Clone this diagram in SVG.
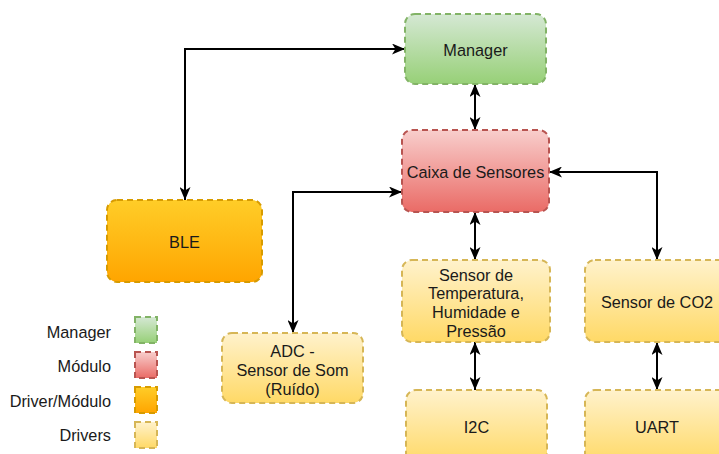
<svg xmlns="http://www.w3.org/2000/svg" width="719" height="454" viewBox="0 0 719 454">
  <style>
    text { font-family: "Liberation Sans", Arial, sans-serif; font-size: 16.3px; fill: #1a1a1a; }
    .c { text-anchor: middle; }
    .r { text-anchor: end; }
    .box { stroke-width: 2; stroke-dasharray: 6 4; }
    .green { fill: url(#gGreen); stroke: #82b366; }
    .red { fill: url(#gRed); stroke: #b85450; }
    .orange { fill: url(#gOrange); stroke: #d79b00; }
    .yellow { fill: url(#gYellow); stroke: #d6b656; }
    .link { fill: none; stroke: #000; stroke-width: 2; marker-start: url(#arrow); marker-end: url(#arrow); }
  </style>
  <defs>
    <linearGradient id="gGreen" x1="0" y1="0" x2="0" y2="1">
      <stop offset="0" stop-color="#d5e8d4"/>
      <stop offset="1" stop-color="#97d077"/>
    </linearGradient>
    <linearGradient id="gRed" x1="0" y1="0" x2="0" y2="1">
      <stop offset="0" stop-color="#f8cecc"/>
      <stop offset="1" stop-color="#ea6b66"/>
    </linearGradient>
    <linearGradient id="gOrange" x1="0" y1="0" x2="0" y2="1">
      <stop offset="0" stop-color="#ffcd28"/>
      <stop offset="1" stop-color="#ffa500"/>
    </linearGradient>
    <linearGradient id="gYellow" x1="0" y1="0" x2="0" y2="1">
      <stop offset="0" stop-color="#fff2cc"/>
      <stop offset="1" stop-color="#ffd966"/>
    </linearGradient>
    <!-- classic double-ended arrowhead -->
    <marker id="arrow" viewBox="0 0 13 11" refX="13" refY="5.5" markerWidth="13" markerHeight="11" markerUnits="userSpaceOnUse" orient="auto-start-reverse">
      <path d="M0,0 L13,5.5 L0,11 L3.5,5.5 Z" fill="#000"/>
    </marker>
  </defs>

  <!-- connectors -->
  <g id="connectors">
    <path class="link" d="M185,200 V49 H405"/>
    <path class="link" d="M475,84 V130"/>
    <path class="link" d="M293,333 V192 H402"/>
    <path class="link" d="M475,212 V260"/>
    <path class="link" d="M549,172 H657 V260"/>
    <path class="link" d="M475,342 V390"/>
    <path class="link" d="M657,342 V390"/>
  </g>

  <!-- nodes -->
  <g id="manager">
    <rect class="box green" x="405" y="14" width="141" height="70" rx="10"/>
    <text class="c" x="475.5" y="55.5">Manager</text>
  </g>
  <g id="caixa-sensores">
    <rect class="box red" x="402" y="130" width="147" height="82" rx="10"/>
    <text class="c" x="475.5" y="178">Caixa de Sensores</text>
  </g>
  <g id="ble">
    <rect class="box orange" x="107" y="200" width="155" height="82" rx="10"/>
    <text class="c" x="184.5" y="248">BLE</text>
  </g>
  <g id="adc">
    <rect class="box yellow" x="222" y="333" width="141" height="70" rx="10"/>
    <text class="c" x="292.5" y="357">ADC -</text>
    <text class="c" x="292.5" y="376">Sensor de Som</text>
    <text class="c" x="292.5" y="395">(Ruído)</text>
  </g>
  <g id="sensor-thp">
    <rect class="box yellow" x="402" y="260" width="148" height="82" rx="10"/>
    <text class="c" x="476" y="280.5">Sensor de</text>
    <text class="c" x="476" y="299">Temperatura,</text>
    <text class="c" x="476" y="318">Humidade e</text>
    <text class="c" x="476" y="336.5">Pressão</text>
  </g>
  <g id="sensor-co2">
    <rect class="box yellow" x="585" y="260" width="146" height="82" rx="10"/>
    <text class="c" x="657" y="308">Sensor de CO2</text>
  </g>
  <g id="i2c">
    <rect class="box yellow" x="406" y="390" width="141" height="74" rx="10"/>
    <text class="c" x="476.5" y="432.5">I2C</text>
  </g>
  <g id="uart">
    <rect class="box yellow" x="585" y="390" width="146" height="74" rx="10"/>
    <text class="c" x="657" y="432.5">UART</text>
  </g>

  <!-- legend -->
  <g id="legend">
    <text class="r" x="111" y="338">Manager</text>
    <rect class="box green" x="135" y="317" width="22" height="26" stroke-dasharray="5 4"/>
    <text class="r" x="111" y="372">Módulo</text>
    <rect class="box red" x="135" y="352" width="22" height="26" stroke-dasharray="5 4"/>
    <text class="r" x="111" y="407">Driver/Módulo</text>
    <rect class="box orange" x="135" y="387" width="22" height="26" stroke-dasharray="5 4"/>
    <text class="r" x="111" y="441">Drivers</text>
    <rect class="box yellow" x="135" y="422" width="22" height="26" stroke-dasharray="5 4"/>
  </g>
</svg>
